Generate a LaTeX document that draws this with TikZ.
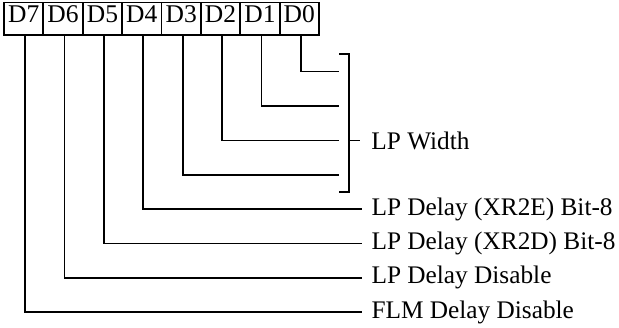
\documentclass[tikz,border=0pt]{standalone}
\usepackage{fontspec}
\setmainfont{Liberation Serif}
\begin{document}
\begin{tikzpicture}[x=1pt,y=-1pt,line width=1.8pt,
  bitbox/.style={draw,rectangle,minimum width=39.4pt,minimum height=32.5pt,inner sep=0pt,
    text height=0.84em,text depth=0pt,font=\fontsize{25.5}{28}\selectfont},
  sidelabel/.style={anchor=west,inner xsep=9pt,inner ysep=0pt,font=\fontsize{25.3}{30}\selectfont}]
\useasboundingbox (0,0) rectangle (619,327);
% bit boxes
\foreach \n [count=\k from 0] in {7,6,5,4,3,2,1,0}{
  \node[bitbox] (b\n) at ({4+39.375*(\k+0.5)},18.75) {D\n};
}
% bracket coordinates
\coordinate (e0) at (339,71.5);
\coordinate (e1) at (339,106);
\coordinate (e2) at (339,140.5);
\coordinate (e3) at (339,175);
\coordinate (bt) at (339,54);
\coordinate (bb) at (339,191.7);
\coordinate (bm) at (349.3,140.5);
\coordinate (tk) at (360,140.5);
\node[anchor=west,inner sep=0pt,font=\fontsize{25.3}{30}\selectfont] (lpw) at (370.5,140.5) {LP Width};
% side labels
\node[sidelabel] (t4) at (361.7,209.3) {LP Delay (XR2E) Bit-8};
\node[sidelabel] (t5) at (361.7,243.5) {LP Delay (XR2D) Bit-8};
\node[sidelabel] (t6) at (361.7,277.7) {LP Delay Disable};
\node[sidelabel] (t7) at (361.7,312.3) {FLM Delay Disable};
% wires
\draw ([xshift=1.5pt]b0.south) |- (e0);
\draw ([xshift=1.5pt]b1.south) |- (e1);
\draw ([xshift=1.5pt]b2.south) |- (e2);
\draw ([xshift=1.5pt]b3.south) |- (e3);
\draw ([xshift=1.5pt]b4.south) |- (t4.west);
\draw ([xshift=1.5pt]b5.south) |- (t5.west);
\draw ([xshift=1.5pt]b6.south) |- (t6.west);
\draw ([xshift=1.5pt]b7.south) |- (t7.west);
% bracket
\draw (bt) -- (bm |- bt) -- (bm |- bb) -- (bb);
\draw (bm) -- (tk);
\end{tikzpicture}
\end{document}
